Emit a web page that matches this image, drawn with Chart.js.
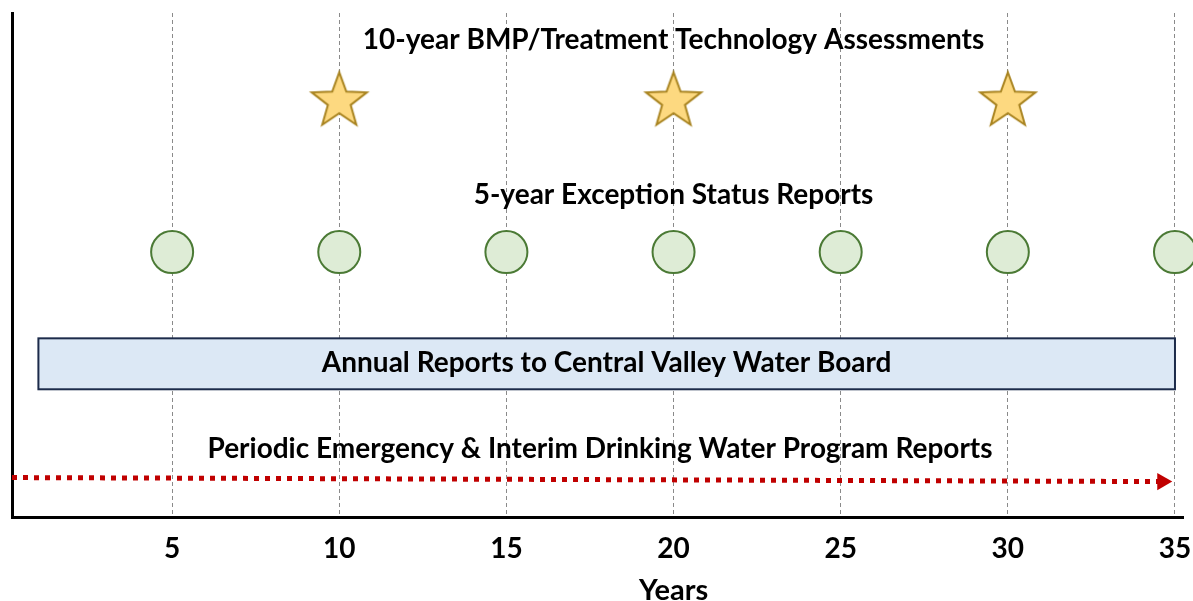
<!DOCTYPE html>
<html>
<head>
<meta charset="utf-8">
<script src="https://cdn.jsdelivr.net/npm/chart.js@4/dist/chart.umd.min.js"></script>
<style>
  body { margin: 0; background: #fff; }
</style>
</head>
<body>
<canvas id="chart1" width="1193" height="601"></canvas>
<script>
// x axis (years)
var tickYears = [5, 10, 15, 20, 25, 30, 35];
var axisTitle = "Years";
var axisTitleX = 20;
// 10-year assessments (stars) and 5-year reports (circles)
var assessmentYears = [10, 20, 30];
var exceptionYears = [5, 10, 15, 20, 25, 30, 35];
// annual reports bar: start/end year
var annualSpan = [1, 35];
// emergency program line
var emergencyX = [0.21, 34.62];
var emergencyY = [7.9, 7.1];
// row heights on a 0-100 vertical scale
var starRow = 82.9;
var circleRow = 52.6;
var annualRow = [25.4, 35.5];
// text labels
var labelTexts = [
    "10-year BMP/Treatment Technology Assessments",
    "5-year Exception Status Reports",
    "Annual Reports to Central Valley Water Board",
    "Periodic Emergency & Interim Drinking Water Program Reports"
];
var labelX = [20, 20, 18, 17.8];
var labelY = [94.6, 63.9, 30.6, 13.5];

var FONT = "Lato, 'Open Sans', sans-serif";

// star marker
var star = document.createElement('canvas');
star.width = 64; star.height = 64;
(function () {
    var c = star.getContext('2d');
    var R = 29, r = 12, cx = 32, cy = 34;
    c.beginPath();
    for (var i = 0; i < 10; i++) {
        var rad = i % 2 == 0 ? R : r;
        var a = -Math.PI / 2 + i * Math.PI / 5;
        c.lineTo(cx + rad * Math.cos(a), cy + rad * Math.sin(a));
    }
    c.closePath();
    c.fillStyle = '#fdd980';
    c.fill();
    c.lineWidth = 2;
    c.lineJoin = 'miter';
    c.strokeStyle = '#a8831f';
    c.stroke();
})();

var notes = {
    id: 'notes',
    beforeDatasetsDraw: function (chart) {
        var ctx = chart.ctx, xs = chart.scales.x, ys = chart.scales.y;
        var x1 = xs.getPixelForValue(annualSpan[0]);
        var x2 = xs.getPixelForValue(annualSpan[1]);
        var y1 = ys.getPixelForValue(annualRow[1]);
        var y2 = ys.getPixelForValue(annualRow[0]);
        ctx.save();
        ctx.fillStyle = '#dce8f5';
        ctx.fillRect(x1, y1, x2 - x1, y2 - y1);
        ctx.lineWidth = 2;
        ctx.strokeStyle = '#1c2b4a';
        ctx.strokeRect(x1, y1, x2 - x1, y2 - y1);
        ctx.restore();
    },
    afterDatasetsDraw: function (chart) {
        var ctx = chart.ctx, xs = chart.scales.x, ys = chart.scales.y;
        ctx.save();
        ctx.fillStyle = '#000';
        ctx.font = "bold 28px " + FONT;
        ctx.textAlign = 'center';
        ctx.textBaseline = 'middle';
        for (var i = 0; i < labelTexts.length; i++) {
            ctx.fillText(labelTexts[i], xs.getPixelForValue(labelX[i]), ys.getPixelForValue(labelY[i]));
        }
        // axis title, centred under year 20 as in the original
        ctx.font = "bold 29px " + FONT;
        ctx.fillText(axisTitle, xs.getPixelForValue(axisTitleX), xs.top + 73);
        ctx.restore();
    }
};

var ctx = document.getElementById("chart1").getContext('2d');
var chart1 = new Chart(ctx, {
    type: 'scatter',
    data: {
        datasets: [{
            label: 'Assessments',
            data: assessmentYears.map(function (v) { return {x: v, y: starRow}; }),
            pointStyle: star,
            clip: false
        }, {
            label: 'Exception reports',
            data: exceptionYears.map(function (v) { return {x: v, y: circleRow}; }),
            pointRadius: 21,
            backgroundColor: '#deecd6',
            borderColor: '#4b7a35',
            borderWidth: 2,
            clip: false
        }, {
            type: 'line',
            label: 'Emergency',
            data: emergencyX.map(function (v, i) { return {x: v, y: emergencyY[i]}; }),
            borderColor: '#c00000',
            borderWidth: 5,
            borderDash: [5, 6],
            pointRadius: [0, 10],
            pointStyle: 'triangle',
            pointRotation: 90,
            pointBackgroundColor: '#c00000',
            pointBorderWidth: 0,
            clip: false
        }]
    },
    options: {
        responsive: false,
        animation: false,
        layout: { autoPadding: false, padding: { top: 13, right: 10, left: 12, bottom: 20 } },
        plugins: {
            legend: { display: false },
            tooltip: { enabled: false }
        },
        scales: {
            x: {
                type: 'linear',
                min: 0.21,
                max: 35.24,
                afterBuildTicks: function (axis) {
                    axis.ticks = tickYears.map(function (v) { return {value: v}; });
                },
                afterFit: function (axis) {
                    axis.paddingLeft = 0;
                    axis.paddingRight = 0;
                },
                grid: { color: '#8a8a8a', lineWidth: 1, drawTicks: false },
                border: { color: '#000', width: 3, dash: [4, 3] },
                ticks: {
                    padding: 15,
                    color: '#000',
                    font: { family: FONT, size: 28, weight: 'bold' }
                }
            },
            y: {
                min: 0,
                max: 100,
                afterFit: function (axis) {
                    axis.width = 0;
                },
                grid: { display: false },
                ticks: { display: false },
                border: { color: '#000', width: 3 }
            }
        }
    },
    plugins: [notes]
});
</script>
</body>
</html>
